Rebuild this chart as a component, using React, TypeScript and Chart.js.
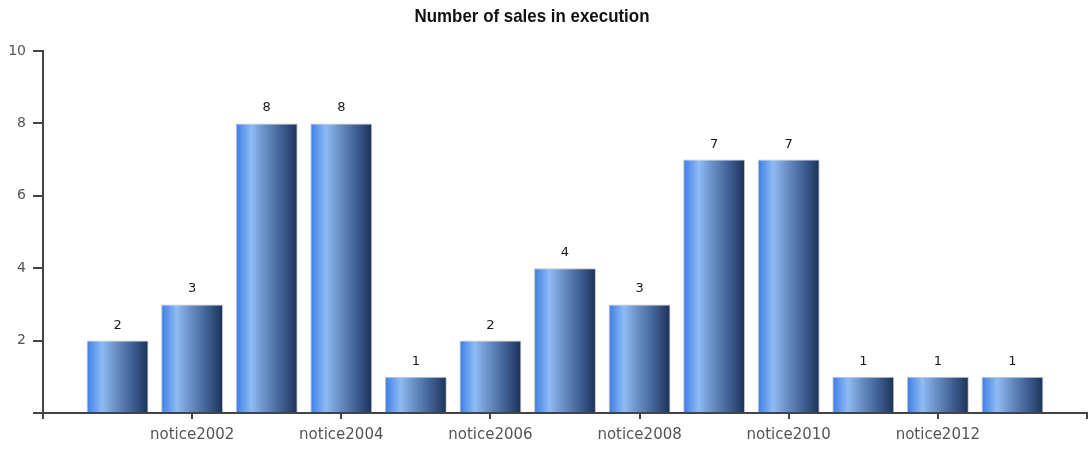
import React, { useEffect, useRef } from "react";
import { Chart, registerables } from "chart.js";

Chart.register(...registerables);

const titleText = "Number of sales in execution";
const categories = [
  "notice2001", "notice2002", "notice2003", "notice2004", "notice2005",
  "notice2006", "notice2007", "notice2008", "notice2009", "notice2010",
  "notice2011", "notice2012", "notice2013",
];
const salesValues = [2, 3, 8, 8, 1, 2, 4, 3, 7, 7, 1, 1, 1];
const yTicks = [0, 2, 4, 6, 8, 10];

export default function App() {
  const ref = useRef<HTMLCanvasElement | null>(null);

  useEffect(() => {
    document.body.style.margin = "0";
    const canvas = ref.current;
    if (!canvas) return;

    const barFill = (ctx: any) => {
      const chart = ctx.chart;
      const xs = chart.scales && chart.scales.x;
      if (!xs || ctx.dataIndex === undefined) return "#5a8ad8";
      const cx = xs.getPixelForValue(ctx.dataIndex + 1);
      const unit = Math.abs(xs.getPixelForValue(2) - xs.getPixelForValue(1));
      const w = unit * 0.83;
      if (!isFinite(cx) || !isFinite(w) || w <= 0) return "#5a8ad8";
      const g = chart.ctx.createLinearGradient(cx - w / 2, 0, cx + w / 2, 0);
      g.addColorStop(0, "#3b7ce6");
      g.addColorStop(0.25, "#8ebbf4");
      g.addColorStop(0.45, "#6d93ca");
      g.addColorStop(0.75, "#3e5e91");
      g.addColorStop(1, "#1b3158");
      return g;
    };

    const labelsPlugin = {
      id: "valueLabels",
      afterDatasetsDraw(chart: any) {
        const c = chart.ctx;
        const meta = chart.getDatasetMeta(0);
        c.save();
        c.font = "13px 'DejaVu Sans'";
        c.fillStyle = "#1a1a1a";
        c.textAlign = "center";
        c.textBaseline = "alphabetic";
        meta.data.forEach((el: any, i: number) => {
          c.fillText(String(salesValues[i]), el.x, el.y - 12);
        });
        c.restore();
      },
    };

    const titlePlugin = {
      id: "customTitle",
      afterDraw(chart: any) {
        const c = chart.ctx;
        c.save();
        c.font = "bold 19px 'Liberation Sans', Arial";
        c.fillStyle = "#111";
        c.textAlign = "center";
        c.textBaseline = "alphabetic";
        c.translate(532, 22);
        c.scale(0.89, 1);
        c.fillText(titleText, 0, 0);
        c.restore();
      },
    };

    const chart = new Chart(canvas, {
      type: "bar",
      data: {
        datasets: [
          {
            label: titleText,
            data: salesValues.map((v, i) => ({ x: i + 1, y: v })),
            backgroundColor: barFill,
            borderColor: "rgba(190,190,190,0.9)",
            borderWidth: 1,
            barPercentage: 0.83,
            categoryPercentage: 1,
          },
        ],
      },
      options: {
        animation: false,
        responsive: false,
        layout: { padding: { top: 51, right: 1, left: 0, bottom: 0 } },
        plugins: {
          legend: { display: false },
          title: { display: false },
          tooltip: { enabled: false },
        },
        scales: {
          x: {
            type: "linear",
            min: 0,
            max: categories.length + 1,
            offset: false,
            grid: {
              offset: false,
              drawOnChartArea: false,
              drawTicks: true,
              tickLength: 6,
              color: "#444",
              lineWidth: 2,
            },
            border: { display: true, color: "#444", width: 2 },
            ticks: {
              stepSize: 2,
              autoSkip: false,
              maxRotation: 0,
              padding: 7,
              color: "#555",
              font: { family: "'DejaVu Sans'", size: 15 },
              callback: (v: any) => {
                const n = Number(v);
                return n >= 1 && n <= categories.length ? categories[n - 1] : "";
              },
            },
            afterFit: (s: any) => {
              s.height = 37;
              s.paddingLeft = 0;
              s.paddingRight = 0;
            },
          },
          y: {
            min: yTicks[0],
            max: yTicks[yTicks.length - 1],
            grid: {
              drawOnChartArea: false,
              drawTicks: true,
              tickLength: 10,
              color: "#444",
              lineWidth: 2,
            },
            border: { display: true, color: "#444", width: 2 },
            ticks: {
              stepSize: 2,
              padding: 7,
              color: "#555",
              font: { family: "'DejaVu Sans'", size: 14 },
              callback: (v: any) => (Number(v) === 0 ? "" : String(v)),
            },
            afterFit: (s: any) => {
              s.width = 43;
            },
          },
        },
      },
      plugins: [labelsPlugin, titlePlugin],
    });

    return () => chart.destroy();
  }, []);

  return (
    <div style={{ width: 1088, height: 450 }}>
      <canvas ref={ref} width={1088} height={450} style={{ display: "block" }} />
    </div>
  );
}
